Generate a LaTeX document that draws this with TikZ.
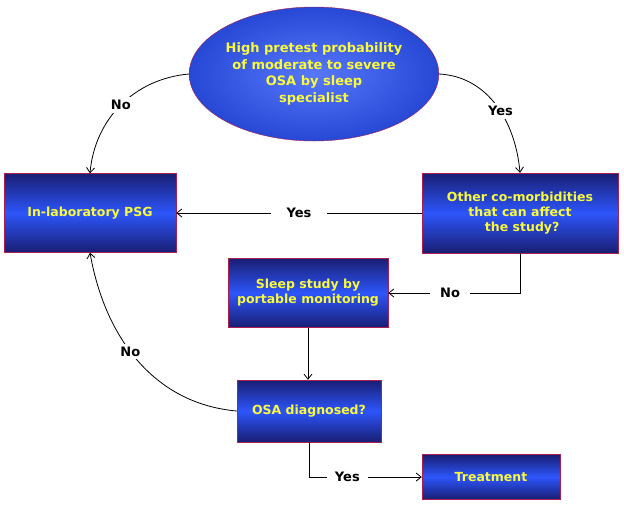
\documentclass[tikz,border=0pt]{standalone}
\usepackage{fontspec}
\setmainfont{DejaVu Sans}
\usetikzlibrary{shapes.geometric,arrows.meta}
\definecolor{boxblue}{RGB}{45,85,250}
\definecolor{boxdark}{RGB}{25,30,115}
\definecolor{boxedge}{RGB}{170,30,80}
\definecolor{txtyellow}{RGB}{250,250,60}
\tikzset{
    box/.style={rectangle, draw=boxedge, thin, top color=boxdark, bottom color=boxdark,
        middle color=boxblue, text=txtyellow, font=\bfseries\fontsize{12.5}{15}\selectfont,
        align=center, inner sep=0pt},
    lbl/.style={fill=white, font=\bfseries\fontsize{13}{15}\selectfont, inner sep=3pt},
    conn/.style={line width=0.8pt, -{Straight Barb[length=5pt, width=8pt]}}
}
\begin{document}
\begin{tikzpicture}[x=1pt, y=-1pt]
    \useasboundingbox (0,0) rectangle (624,507);

    % Draw start ellipse
    \node[ellipse, draw=boxedge, thin, inner color=boxblue!80!white, outer color=boxblue!85!black,
        minimum width=241, minimum height=134, inner sep=0pt, text=txtyellow,
        font=\bfseries\fontsize{13}{16.5}\selectfont, align=center] (pretest) at (314,74)
        {High pretest probability\\of moderate to severe\\OSA by sleep\\specialist};

    % Draw boxes
    \node[box, minimum width=172, minimum height=79] (inlab) at (90,213) {In-laboratory PSG};
    \node[box, minimum width=196, minimum height=80] (comorb) at (520,213)
        {Other co-morbidities\\that can affect\\\ the study?};
    \node[box, minimum width=160, minimum height=69] (portable) at (308,293)
        {Sleep study by\\portable monitoring};
    \node[box, minimum width=144, minimum height=62] (diag) at (309,411) {OSA diagnosed?};
    \node[box, minimum width=138, minimum height=45] (treat) at (491,477) {Treatment};

    % Draw connectors
    \draw[conn] (pretest.west) to[out=185, in=85] node[lbl, pos=0.5] {No} (inlab.north);
    \draw[conn] (pretest.east) to[out=-3, in=95] node[lbl, pos=0.55] {Yes} (comorb.north);
    \draw[conn] (comorb.west) -- node[lbl, inner xsep=16pt] {Yes} (inlab.east);
    \draw[conn] (comorb.south) |- node[lbl, pos=0.765, inner xsep=10pt] {No} (portable.east);
    \draw[conn] (portable.south) -- (portable.south |- diag.north);
    \draw[conn] (diag.west) to[out=175, in=-80] node[lbl, pos=0.55] {No} (inlab.south);
    \draw[conn] (diag.south) |- node[lbl, pos=0.67, inner xsep=8pt] {Yes} (treat.west);
\end{tikzpicture}
\end{document}
